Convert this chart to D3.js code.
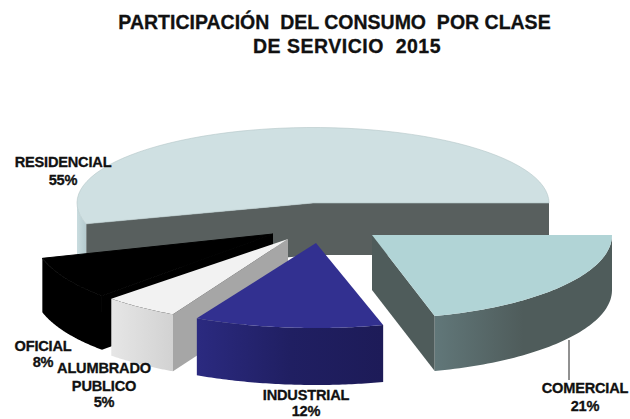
<!DOCTYPE html>
<html>
<head>
<meta charset="utf-8">
<script src="https://cdn.jsdelivr.net/npm/d3@7"></script>
<style>
  html, body { margin: 0; padding: 0; background: #fff; }
  svg { display: block; }
  text { font-family: "Liberation Sans", Arial, sans-serif; font-weight: bold; fill: #111; stroke: #111; stroke-width: 0.3px; text-anchor: middle; }
</style>
</head>
<body>
<svg id="chart" width="630" height="419"></svg>
<script>
// Consumption share by service class, 2015
const categories = ["RESIDENCIAL", "COMERCIAL", "INDUSTRIAL", "ALUMBRADO PUBLICO", "OFICIAL"];
const shares = [55, 21, 12, 5, 8];
const titleLines = ["PARTICIPACIÓN  DEL CONSUMO  POR CLASE", "DE SERVICIO  2015"];
const titleX = [334.5, 347];
const titleTracking = [0, 0.5];

// Exploded wedge geometry: apex, ellipse radii and extrusion depth per class
const wedgeLayout = {
  "RESIDENCIAL":       { cx: 313, cy: 203, rx: 236, ry: 75.5, depth: 52 },
  "COMERCIAL":         { cx: 372, cy: 235, rx: 240, ry: 84, depth: 55 },
  "INDUSTRIAL":        { cx: 316, cy: 243, rx: 257, ry: 85, depth: 57 },
  "ALUMBRADO PUBLICO": { cx: 288, cy: 239, rx: 248, ry: 85, depth: 57 },
  "OFICIAL":           { cx: 273, cy: 234, rx: 240, ry: 88, depth: 54 }
};

// Face colours; wall holds the left-to-right gradient stops of the curved wall
const wedgeStyle = {
  "RESIDENCIAL":       { top: "#cfe0e2", wall: ["#c9dcdf", "#b4cace"], side: "#585f5e" },
  "COMERCIAL":         { top: "#b1d4d6", wall: ["#617779", "#4f5c5b", "#4f5c5b"], side: "#4f5c5b" },
  "INDUSTRIAL":        { top: "#323090", wall: ["#2b2a80", "#201f62", "#1d1b58"], side: "#1d1b58" },
  "ALUMBRADO PUBLICO": { top: "#f2f2f2", wall: ["#e6e6e6", "#d2d2d2"], side: "#a6a6a6" },
  "OFICIAL":           { top: "#000000", wall: ["#000000", "#000000"], side: "#000000" }
};

// Painting order, back to front
const drawOrder = ["RESIDENCIAL", "OFICIAL", "COMERCIAL", "ALUMBRADO PUBLICO", "INDUSTRIAL"];

const labels = [
  { key: "RESIDENCIAL", lines: ["RESIDENCIAL", "55%"], x: 63, ys: [167, 185] },
  { key: "COMERCIAL", lines: ["COMERCIAL", "21%"], x: 585, ys: [393, 411] },
  { key: "INDUSTRIAL", lines: ["INDUSTRIAL", "12%"], x: 306, ys: [400, 416] },
  { key: "ALUMBRADO PUBLICO", lines: ["ALUMBRADO", "PUBLICO", "5%"], x: 104, ys: [373, 391, 407] },
  { key: "OFICIAL", lines: ["OFICIAL", "8%"], x: 43, ys: [351, 367] }
];

const svg = d3.select("#chart");
const defs = svg.append("defs");

// The first class ends on the east side of the ellipse; angles run clockwise from north
const total = d3.sum(shares);
const startAngle = Math.PI / 2 - 2 * Math.PI * shares[0] / total;
const pie = d3.pie().sort(null).startAngle(startAngle).endAngle(startAngle + 2 * Math.PI);
const arcs = pie(shares);
const arcByName = new Map(categories.map((c, i) => [c, arcs[i]]));

const line = d3.line();
const rimPoints = (g, a0, a1, drop) => {
  const n = 60;
  const t = d3.scaleLinear().domain([0, n]).range([a0, a1]);
  return d3.range(n + 1).map(i => [
    g.cx + g.rx * Math.sin(t(i)),
    g.cy - g.ry * Math.cos(t(i)) + drop
  ]);
};

const chart = svg.append("g");

drawOrder.forEach((name, idx) => {
  const g = wedgeLayout[name], s = wedgeStyle[name], d = arcByName.get(name);
  const a0 = d.startAngle, a1 = d.endAngle;
  const node = chart.append("g").attr("class", "wedge");
  const apex = [g.cx, g.cy];
  const lower = p => [p[0], p[1] + g.depth];
  const radial = a => rimPoints(g, a, a, 0)[0];
  const face = (p, q) => [p, q, lower(q), lower(p)];

  // Radial cut faces that turn towards the viewer
  if (name === "RESIDENCIAL") {
    node.append("path").attr("fill", s.side)
      .attr("d", line([radial(a0), apex, radial(a1), lower(radial(a1)), lower(apex), lower(radial(a0))]) + "Z");
  } else if (name === "COMERCIAL") {
    node.append("path").attr("fill", s.side).attr("d", line(face(apex, radial(a1))) + "Z");
  } else if (name === "ALUMBRADO PUBLICO" || name === "OFICIAL") {
    node.append("path").attr("fill", s.side).attr("d", line(face(apex, radial(a0))) + "Z");
  }

  // Curved outer wall; the residential wedge only shows its short western stretch
  const wallTo = name === "RESIDENCIAL" ? -Math.PI / 2 : a1;
  const gradId = "wall-" + idx;
  const grad = defs.append("linearGradient").attr("id", gradId)
    .attr("x1", 0).attr("x2", 1).attr("y1", 0).attr("y2", 0);
  s.wall.forEach((c, i) => grad.append("stop")
    .attr("offset", i / (s.wall.length - 1)).attr("stop-color", c));
  const topRim = rimPoints(g, a0, wallTo, 0);
  const botRim = rimPoints(g, a0, wallTo, g.depth).reverse();
  node.append("path").attr("fill", `url(#${gradId})`)
    .attr("d", line(topRim.concat(botRim)) + "Z");

  // Top surface of the wedge; the black wedge gets a matching hairline to close its seams
  node.append("path").attr("fill", s.top)
    .attr("stroke", name === "RESIDENCIAL" ? "#b4c6c8" : name === "OFICIAL" ? "#000" : "none")
    .attr("stroke-width", name === "RESIDENCIAL" ? 0.6 : name === "OFICIAL" ? 1 : 0)
    .attr("d", line([apex].concat(rimPoints(g, a0, a1, 0))) + "Z");
});

// Leader from the commercial wedge to its label
svg.append("line").attr("x1", 569).attr("x2", 569).attr("y1", 340).attr("y2", 380)
  .attr("stroke", "#222").attr("stroke-width", 1);

// Title
svg.append("g").selectAll("text").data(titleLines).join("text")
  .attr("x", (d, i) => titleX[i]).attr("y", (d, i) => 29 + i * 24)
  .attr("font-size", 19.5).attr("xml:space", "preserve").style("white-space", "pre")
  .style("letter-spacing", (d, i) => titleTracking[i] + "px")
  .text(d => d);

// Category labels with their percentages
const labelGroup = svg.append("g");
labels.forEach(l => {
  labelGroup.selectAll(null).data(l.lines).join("text")
    .attr("x", l.x).attr("y", (d, i) => l.ys[i])
    .attr("font-size", 14.6).style("letter-spacing", "-0.2px")
    .text(d => d);
});
</script>
</body>
</html>
